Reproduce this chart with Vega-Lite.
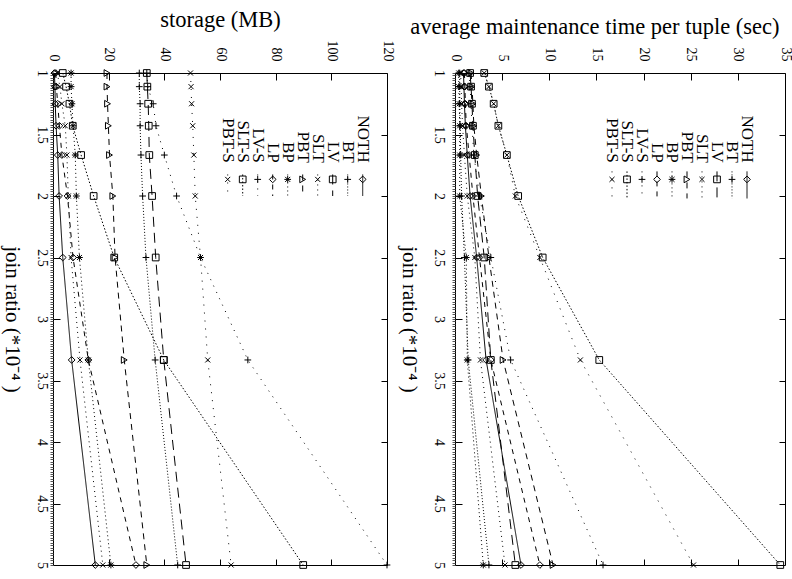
{
  "$schema": "https://vega.github.io/schema/vega-lite/v6.json",
  "background": "white",
  "padding": {"left": 0, "top": 7, "right": 5, "bottom": 5},
  "spacing": 2,
  "config": {
    "font": "Liberation Serif",
    "view": {"stroke": "black", "strokeWidth": 1},
    "axis": {"domain": false, "grid": false, "tickColor": "black", "tickWidth": 1, "labelColor": "black", "titleColor": "black", "labelFont": "Liberation Serif", "titleFont": "Liberation Serif", "titleFontWeight": "normal", "labelFontSize": 14, "titleFontSize": 22.5, "labelFlush": false, "labelOverlap": false}
  },
  "datasets": {
    "storage": [
      {"s": "NOTH", "r": 1, "v": 0.5}, {"s": "NOTH", "r": 1.111, "v": 0.7}, {"s": "NOTH", "r": 1.25, "v": 0.8}, {"s": "NOTH", "r": 1.429, "v": 1.1}, {"s": "NOTH", "r": 1.667, "v": 1.7}, {"s": "NOTH", "r": 2, "v": 2.2}, {"s": "NOTH", "r": 2.5, "v": 3.5}, {"s": "NOTH", "r": 3.333, "v": 6.7}, {"s": "NOTH", "r": 5, "v": 15.2},
      {"s": "BT", "r": 1, "v": 31.0}, {"s": "BT", "r": 1.111, "v": 31.0}, {"s": "BT", "r": 1.25, "v": 31.3}, {"s": "BT", "r": 1.429, "v": 31.3}, {"s": "BT", "r": 1.667, "v": 31.6}, {"s": "BT", "r": 2, "v": 32.2}, {"s": "BT", "r": 2.5, "v": 33.4}, {"s": "BT", "r": 3.333, "v": 36.7}, {"s": "BT", "r": 5, "v": 44.8},
      {"s": "LV", "r": 1, "v": 33.7}, {"s": "LV", "r": 1.111, "v": 33.9}, {"s": "LV", "r": 1.25, "v": 34.2}, {"s": "LV", "r": 1.429, "v": 34.4}, {"s": "LV", "r": 1.667, "v": 34.6}, {"s": "LV", "r": 2, "v": 35.6}, {"s": "LV", "r": 2.5, "v": 36.9}, {"s": "LV", "r": 3.333, "v": 39.8}, {"s": "LV", "r": 5, "v": 47.8},
      {"s": "SLT", "r": 1, "v": 1.5}, {"s": "SLT", "r": 1.111, "v": 2.5}, {"s": "SLT", "r": 1.25, "v": 3.2}, {"s": "SLT", "r": 1.429, "v": 4.4}, {"s": "SLT", "r": 1.667, "v": 5.0}, {"s": "SLT", "r": 2, "v": 5.5}, {"s": "SLT", "r": 2.5, "v": 6.5}, {"s": "SLT", "r": 3.333, "v": 9.7}, {"s": "SLT", "r": 5, "v": 17.9},
      {"s": "PBT", "r": 1, "v": 19.4}, {"s": "PBT", "r": 1.111, "v": 19.4}, {"s": "PBT", "r": 1.25, "v": 19.6}, {"s": "PBT", "r": 1.429, "v": 19.9}, {"s": "PBT", "r": 1.667, "v": 20.3}, {"s": "PBT", "r": 2, "v": 21.5}, {"s": "PBT", "r": 2.5, "v": 22.3}, {"s": "PBT", "r": 3.333, "v": 25.6}, {"s": "PBT", "r": 5, "v": 33.7},
      {"s": "BP", "r": 1, "v": 6.5}, {"s": "BP", "r": 1.111, "v": 6.5}, {"s": "BP", "r": 1.25, "v": 6.8}, {"s": "BP", "r": 1.429, "v": 7.2}, {"s": "BP", "r": 1.667, "v": 8.0}, {"s": "BP", "r": 2, "v": 8.4}, {"s": "BP", "r": 2.5, "v": 9.5}, {"s": "BP", "r": 3.333, "v": 12.7}, {"s": "BP", "r": 5, "v": 20.8},
      {"s": "LP", "r": 1, "v": 1.0}, {"s": "LP", "r": 1.111, "v": 1.2}, {"s": "LP", "r": 1.25, "v": 1.7}, {"s": "LP", "r": 1.429, "v": 2.3}, {"s": "LP", "r": 1.667, "v": 3.2}, {"s": "LP", "r": 2, "v": 5.2}, {"s": "LP", "r": 2.5, "v": 7.2}, {"s": "LP", "r": 3.333, "v": 12.7}, {"s": "LP", "r": 5, "v": 29.8},
      {"s": "LV-S", "r": 1, "v": 33.7}, {"s": "LV-S", "r": 1.111, "v": 34.0}, {"s": "LV-S", "r": 1.25, "v": 36.0}, {"s": "LV-S", "r": 1.429, "v": 37.0}, {"s": "LV-S", "r": 1.667, "v": 40.0}, {"s": "LV-S", "r": 2, "v": 44.4}, {"s": "LV-S", "r": 2.5, "v": 53.0}, {"s": "LV-S", "r": 3.333, "v": 70.0}, {"s": "LV-S", "r": 5, "v": 120},
      {"s": "SLT-S", "r": 1, "v": 3.5}, {"s": "SLT-S", "r": 1.111, "v": 4.7}, {"s": "SLT-S", "r": 1.25, "v": 5.9}, {"s": "SLT-S", "r": 1.429, "v": 7.1}, {"s": "SLT-S", "r": 1.667, "v": 10.1}, {"s": "SLT-S", "r": 2, "v": 14.6}, {"s": "SLT-S", "r": 2.5, "v": 22.0}, {"s": "SLT-S", "r": 3.333, "v": 39.8}, {"s": "SLT-S", "r": 5, "v": 89.9},
      {"s": "PBT-S", "r": 1, "v": 49.4}, {"s": "PBT-S", "r": 1.111, "v": 49.6}, {"s": "PBT-S", "r": 1.25, "v": 49.8}, {"s": "PBT-S", "r": 1.429, "v": 50.2}, {"s": "PBT-S", "r": 1.667, "v": 50.6}, {"s": "PBT-S", "r": 2, "v": 51.1}, {"s": "PBT-S", "r": 2.5, "v": 53.0}, {"s": "PBT-S", "r": 3.333, "v": 55.6}, {"s": "PBT-S", "r": 5, "v": 64.0}
    ],
    "time": [
      {"s": "NOTH", "r": 1, "v": 0.9}, {"s": "NOTH", "r": 1.111, "v": 0.95}, {"s": "NOTH", "r": 1.25, "v": 1.0}, {"s": "NOTH", "r": 1.429, "v": 1.1}, {"s": "NOTH", "r": 1.667, "v": 1.3}, {"s": "NOTH", "r": 2, "v": 1.6}, {"s": "NOTH", "r": 2.5, "v": 2.3}, {"s": "NOTH", "r": 3.333, "v": 3.3}, {"s": "NOTH", "r": 5, "v": 7.0},
      {"s": "BT", "r": 1, "v": 0.5}, {"s": "BT", "r": 1.111, "v": 0.5}, {"s": "BT", "r": 1.25, "v": 0.5}, {"s": "BT", "r": 1.429, "v": 0.55}, {"s": "BT", "r": 1.667, "v": 0.6}, {"s": "BT", "r": 2, "v": 0.7}, {"s": "BT", "r": 2.5, "v": 1.0}, {"s": "BT", "r": 3.333, "v": 1.4}, {"s": "BT", "r": 5, "v": 3.6},
      {"s": "LV", "r": 1, "v": 1.6}, {"s": "LV", "r": 1.111, "v": 1.7}, {"s": "LV", "r": 1.25, "v": 1.8}, {"s": "LV", "r": 1.429, "v": 1.9}, {"s": "LV", "r": 1.667, "v": 2.1}, {"s": "LV", "r": 2, "v": 2.4}, {"s": "LV", "r": 2.5, "v": 3.1}, {"s": "LV", "r": 3.333, "v": 3.8}, {"s": "LV", "r": 5, "v": 6.4},
      {"s": "SLT", "r": 1, "v": 0.6}, {"s": "SLT", "r": 1.111, "v": 0.65}, {"s": "SLT", "r": 1.25, "v": 0.7}, {"s": "SLT", "r": 1.429, "v": 0.8}, {"s": "SLT", "r": 1.667, "v": 1.0}, {"s": "SLT", "r": 2, "v": 1.3}, {"s": "SLT", "r": 2.5, "v": 2.1}, {"s": "SLT", "r": 3.333, "v": 2.7}, {"s": "SLT", "r": 5, "v": 5.3},
      {"s": "PBT", "r": 1, "v": 1.7}, {"s": "PBT", "r": 1.111, "v": 1.8}, {"s": "PBT", "r": 1.25, "v": 1.9}, {"s": "PBT", "r": 1.429, "v": 2.0}, {"s": "PBT", "r": 1.667, "v": 2.3}, {"s": "PBT", "r": 2, "v": 2.8}, {"s": "PBT", "r": 2.5, "v": 3.6}, {"s": "PBT", "r": 3.333, "v": 5.1}, {"s": "PBT", "r": 5, "v": 10.4},
      {"s": "BP", "r": 1, "v": 0.4}, {"s": "BP", "r": 1.111, "v": 0.4}, {"s": "BP", "r": 1.25, "v": 0.45}, {"s": "BP", "r": 1.429, "v": 0.5}, {"s": "BP", "r": 1.667, "v": 0.5}, {"s": "BP", "r": 2, "v": 0.5}, {"s": "BP", "r": 2.5, "v": 1.2}, {"s": "BP", "r": 3.333, "v": 1.3}, {"s": "BP", "r": 5, "v": 3.0},
      {"s": "LP", "r": 1, "v": 1.0}, {"s": "LP", "r": 1.111, "v": 1.05}, {"s": "LP", "r": 1.25, "v": 1.1}, {"s": "LP", "r": 1.429, "v": 1.2}, {"s": "LP", "r": 1.667, "v": 1.5}, {"s": "LP", "r": 2, "v": 1.9}, {"s": "LP", "r": 2.5, "v": 2.6}, {"s": "LP", "r": 3.333, "v": 3.8}, {"s": "LP", "r": 5, "v": 9.0},
      {"s": "LV-S", "r": 1, "v": 1.5}, {"s": "LV-S", "r": 1.111, "v": 1.6}, {"s": "LV-S", "r": 1.25, "v": 1.7}, {"s": "LV-S", "r": 1.429, "v": 1.8}, {"s": "LV-S", "r": 1.667, "v": 2.0}, {"s": "LV-S", "r": 2, "v": 2.6}, {"s": "LV-S", "r": 2.5, "v": 3.8}, {"s": "LV-S", "r": 3.333, "v": 5.9}, {"s": "LV-S", "r": 5, "v": 15.7},
      {"s": "SLT-S", "r": 1, "v": 3.1}, {"s": "SLT-S", "r": 1.111, "v": 3.6}, {"s": "SLT-S", "r": 1.25, "v": 4.1}, {"s": "SLT-S", "r": 1.429, "v": 4.6}, {"s": "SLT-S", "r": 1.667, "v": 5.5}, {"s": "SLT-S", "r": 2, "v": 6.7}, {"s": "SLT-S", "r": 2.5, "v": 9.3}, {"s": "SLT-S", "r": 3.333, "v": 15.3}, {"s": "SLT-S", "r": 5, "v": 34.5},
      {"s": "PBT-S", "r": 1, "v": 3.1}, {"s": "PBT-S", "r": 1.111, "v": 3.6}, {"s": "PBT-S", "r": 1.25, "v": 4.1}, {"s": "PBT-S", "r": 1.429, "v": 4.6}, {"s": "PBT-S", "r": 1.667, "v": 5.5}, {"s": "PBT-S", "r": 2, "v": 6.4}, {"s": "PBT-S", "r": 2.5, "v": 9.0}, {"s": "PBT-S", "r": 3.333, "v": 13.3}, {"s": "PBT-S", "r": 5, "v": 25.3}
    ],
    "keys": [{"s": "NOTH"}, {"s": "BT"}, {"s": "LV"}, {"s": "SLT"}, {"s": "PBT"}, {"s": "BP"}, {"s": "LP"}, {"s": "LV-S"}, {"s": "SLT-S"}, {"s": "PBT-S"}]
  },
  "hconcat": [
    {
      "width": 334,
      "height": 492,
      "resolve": {"scale": {"x": "independent", "y": "independent"}, "axis": {"x": "independent", "y": "independent"}},
      "layer": [
        {
          "data": {"name": "storage"},
          "mark": {"type": "line", "color": "black", "strokeWidth": 1, "clip": true},
          "encoding": {
            "x": {"field": "v", "type": "quantitative", "scale": {"domain": [0, 120], "nice": false}, "axis": {"orient": "top", "title": "storage (MB)", "values": [0, 20, 40, 60, 80, 100, 120], "labelExpr": "'' + datum.value", "labelAngle": 90, "labelAlign": "right", "labelBaseline": "middle", "tickSize": -7, "labelPadding": 19, "titlePadding": 9}},
            "y": {"field": "r", "type": "quantitative", "scale": {"domain": [1, 5], "reverse": true, "nice": false, "zero": false}, "axis": {"orient": "left", "title": "join ratio (*10⁻⁴ )", "values": [1, 1.5, 2, 2.5, 3, 3.5, 4, 4.5, 5], "labelExpr": "'' + datum.value", "labelAngle": 90, "labelAlign": "center", "labelBaseline": "top", "tickSize": -7, "labelPadding": 12, "titleAngle": 90, "titleBaseline": "top", "titleFontSize": 21, "titlePadding": 12}},
            "strokeDash": {"field": "s", "type": "nominal", "scale": {"domain": ["NOTH", "BT", "LV", "SLT", "PBT", "BP", "LP", "LV-S", "SLT-S", "PBT-S"], "range": [[1, 0], [1, 2], [10, 6], [1, 4], [6, 5], [1, 3], [5, 5], [1, 6], [1.5, 2], [1, 7]]}, "legend": null},
            "order": {"field": "r", "type": "quantitative"}
          }
        },
        {
          "data": {"name": "storage"},
          "mark": {"type": "point", "filled": false, "color": "black", "strokeWidth": 1, "size": 45, "opacity": 1},
          "encoding": {
            "x": {"field": "v", "type": "quantitative", "scale": {"domain": [0, 120], "nice": false}, "axis": {"orient": "bottom", "labels": false, "title": null, "values": [20, 40, 60, 80, 100], "tickSize": -6}},
            "y": {"field": "r", "type": "quantitative", "scale": {"domain": [1, 5], "reverse": true, "nice": false, "zero": false}, "axis": {"orient": "right", "labels": false, "title": null, "values": [1.5, 2, 2.5, 3, 3.5, 4, 4.5], "tickSize": -6}},
            "shape": {"field": "s", "type": "nominal", "scale": {"domain": ["NOTH", "BT", "LV", "SLT", "PBT", "BP", "LP", "LV-S", "SLT-S", "PBT-S"], "range": ["diamond", "M-1,0L1,0M0,-1L0,1", "square", "M-0.75,-0.75L0.75,0.75M-0.75,0.75L0.75,-0.75", "triangle-right", "M-1,0L1,0M0,-1L0,1M-0.75,-0.75L0.75,0.75M-0.75,0.75L0.75,-0.75", "diamond", "M-1,0L1,0M0,-1L0,1", "square", "M-0.75,-0.75L0.75,0.75M-0.75,0.75L0.75,-0.75"]}, "legend": null}
          }
        },
        {
          "data": {"name": "keys"},
          "encoding": {
            "x": {"field": "s", "type": "nominal", "scale": {"type": "point", "domain": ["NOTH", "BT", "LV", "SLT", "PBT", "BP", "LP", "LV-S", "SLT-S", "PBT-S"], "range": [309.7, 174.7], "padding": 0}, "axis": null}
          },
          "layer": [
            {
              "mark": {"type": "rule", "color": "black", "strokeWidth": 1},
              "encoding": {
                "y": {"datum": 1.825, "type": "quantitative", "scale": {"domain": [1, 5], "reverse": true, "nice": false, "zero": false}, "axis": {"orient": "left", "labels": false, "title": null, "tickCount": 200, "tickSize": 3, "ticks": true, "tickColor": "#555555"}},
                "y2": {"datum": 2.0},
                "strokeDash": {"field": "s", "type": "nominal", "legend": null}
              }
            },
            {
              "mark": {"type": "point", "filled": false, "color": "black", "strokeWidth": 1, "size": 45, "opacity": 1},
              "encoding": {
                "y": {"datum": 1.865, "type": "quantitative"},
                "shape": {"field": "s", "type": "nominal", "legend": null}
              }
            },
            {
              "mark": {"type": "text", "angle": 90, "align": "right", "baseline": "middle", "fontSize": 17, "font": "Liberation Serif", "color": "black"},
              "encoding": {
                "y": {"datum": 1.73, "type": "quantitative"},
                "text": {"field": "s"}
              }
            }
          ]
        }
      ]
    },
    {
      "width": 330,
      "height": 492,
      "resolve": {"scale": {"x": "independent", "y": "independent"}, "axis": {"x": "independent", "y": "independent"}},
      "layer": [
        {
          "data": {"name": "time"},
          "mark": {"type": "line", "color": "black", "strokeWidth": 1, "clip": true},
          "encoding": {
            "x": {"field": "v", "type": "quantitative", "scale": {"domain": [0, 35], "nice": false}, "axis": {"orient": "top", "title": "average maintenance time per tuple (sec)", "titleX": 324, "titleAlign": "right", "values": [0, 5, 10, 15, 20, 25, 30, 35], "labelExpr": "'' + datum.value", "labelAngle": 90, "labelAlign": "right", "labelBaseline": "middle", "tickSize": -7, "labelPadding": 19, "titlePadding": 9}},
            "y": {"field": "r", "type": "quantitative", "scale": {"domain": [1, 5], "reverse": true, "nice": false, "zero": false}, "axis": {"orient": "left", "title": "join ratio (*10⁻⁴ )", "values": [1, 1.5, 2, 2.5, 3, 3.5, 4, 4.5, 5], "labelExpr": "'' + datum.value", "labelAngle": 90, "labelAlign": "center", "labelBaseline": "top", "tickSize": -7, "labelPadding": 17, "titleAngle": 90, "titleBaseline": "top", "titleFontSize": 21, "titlePadding": 12}},
            "strokeDash": {"field": "s", "type": "nominal", "scale": {"domain": ["NOTH", "BT", "LV", "SLT", "PBT", "BP", "LP", "LV-S", "SLT-S", "PBT-S"], "range": [[1, 0], [1, 2], [10, 6], [1, 4], [6, 5], [1, 3], [5, 5], [1, 6], [1.5, 2], [1, 7]]}, "legend": null},
            "order": {"field": "r", "type": "quantitative"}
          }
        },
        {
          "data": {"name": "time"},
          "mark": {"type": "point", "filled": false, "color": "black", "strokeWidth": 1, "size": 45, "opacity": 1},
          "encoding": {
            "x": {"field": "v", "type": "quantitative", "scale": {"domain": [0, 35], "nice": false}, "axis": {"orient": "bottom", "labels": false, "title": null, "values": [5, 10, 15, 20, 25, 30], "tickSize": -6}},
            "y": {"field": "r", "type": "quantitative", "scale": {"domain": [1, 5], "reverse": true, "nice": false, "zero": false}, "axis": {"orient": "right", "labels": false, "title": null, "values": [1.5, 2, 2.5, 3, 3.5, 4, 4.5], "tickSize": -6}},
            "shape": {"field": "s", "type": "nominal", "scale": {"domain": ["NOTH", "BT", "LV", "SLT", "PBT", "BP", "LP", "LV-S", "SLT-S", "PBT-S"], "range": ["diamond", "M-1,0L1,0M0,-1L0,1", "square", "M-0.75,-0.75L0.75,0.75M-0.75,0.75L0.75,-0.75", "triangle-right", "M-1,0L1,0M0,-1L0,1M-0.75,-0.75L0.75,0.75M-0.75,0.75L0.75,-0.75", "diamond", "M-1,0L1,0M0,-1L0,1", "square", "M-0.75,-0.75L0.75,0.75M-0.75,0.75L0.75,-0.75"]}, "legend": null}
          }
        },
        {
          "data": {"name": "keys"},
          "encoding": {
            "x": {"field": "s", "type": "nominal", "scale": {"type": "point", "domain": ["NOTH", "BT", "LV", "SLT", "PBT", "BP", "LP", "LV-S", "SLT-S", "PBT-S"], "range": [292, 157], "padding": 0}, "axis": null}
          },
          "layer": [
            {
              "mark": {"type": "rule", "color": "black", "strokeWidth": 1},
              "encoding": {
                "y": {"datum": 1.80, "type": "quantitative", "scale": {"domain": [1, 5], "reverse": true, "nice": false, "zero": false}, "axis": {"orient": "left", "labels": false, "title": null, "tickCount": 200, "tickSize": 3, "ticks": true, "tickColor": "#555555"}},
                "y2": {"datum": 2.02},
                "strokeDash": {"field": "s", "type": "nominal", "legend": null}
              }
            },
            {
              "mark": {"type": "point", "filled": false, "color": "black", "strokeWidth": 1, "size": 45, "opacity": 1},
              "encoding": {
                "y": {"datum": 1.865, "type": "quantitative"},
                "shape": {"field": "s", "type": "nominal", "legend": null}
              }
            },
            {
              "mark": {"type": "text", "angle": 90, "align": "right", "baseline": "middle", "fontSize": 17, "font": "Liberation Serif", "color": "black"},
              "encoding": {
                "y": {"datum": 1.73, "type": "quantitative"},
                "text": {"field": "s"}
              }
            }
          ]
        }
      ]
    }
  ]
}
